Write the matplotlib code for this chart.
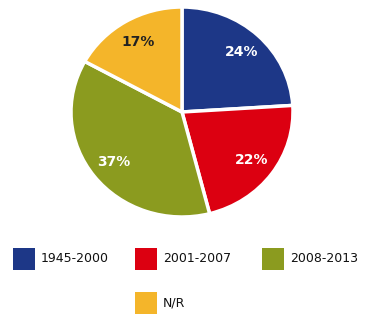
import matplotlib
matplotlib.use("Agg")
import matplotlib.pyplot as plt
from matplotlib.patches import Rectangle

categories = ["1945-2000", "2001-2007", "2008-2013", "N/R"]
values = [24, 22, 37, 17]
colors = ["#1d3787", "#dc0011", "#8b9b1f", "#f4b52a"]
label_colors = ["white", "white", "white", "#222222"]

W, H = 371, 328
fig = plt.figure(figsize=(W / 100, H / 100), dpi=100)
fig.patch.set_facecolor("white")

cx, cy, rx, ry = 182, 112, 111, 105
ax = fig.add_axes([(cx - rx) / W, 1 - (cy + ry) / H, 2 * rx / W, 2 * ry / H])
wedges, texts, autotexts = ax.pie(
    values, colors=colors, startangle=90, counterclock=False,
    autopct=lambda p: f"{p:.0f}%", pctdistance=0.78,
    wedgeprops=dict(edgecolor="white", linewidth=2.5),
    textprops=dict(fontsize=10, fontweight="bold"))
for t, c in zip(autotexts, label_colors):
    t.set_color(c)
ax.set_xlim(-1.0, 1.0)
ax.set_ylim(-1.0, 1.0)
ax.set_aspect("auto")
ax.axis("off")

# legend (manual layout)
pos = [(13, 248), (135, 248), (262, 248), (135, 292)]
sq = 22
for (x, y), cat, col in zip(pos, categories, colors):
    fig.patches.append(Rectangle((x / W, 1 - (y + sq) / H), sq / W, sq / H,
                                 transform=fig.transFigure, facecolor=col,
                                 edgecolor="none"))
    fig.text((x + sq + 6) / W, 1 - (y + sq / 2) / H, cat, fontsize=9,
             va="center", ha="left", color="#111111")

fig.savefig("out.png", dpi=100)
